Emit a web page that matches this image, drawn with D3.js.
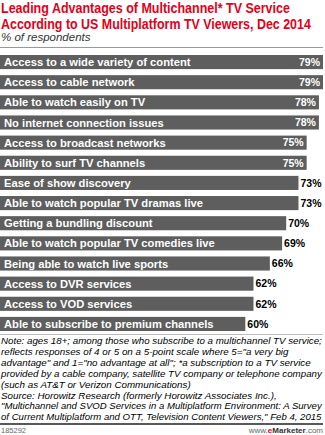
<!DOCTYPE html>
<html><head><meta charset="utf-8">
<script src="https://cdn.jsdelivr.net/npm/d3@7"></script>
<style>
body{margin:0;background:#fff;}
svg{display:block;}
</style></head>
<body>
<script>
const categories = [
  "Access to a wide variety of content",
  "Access to cable network",
  "Able to watch easily on TV",
  "No internet connection issues",
  "Access to broadcast networks",
  "Ability to surf TV channels",
  "Ease of show discovery",
  "Able to watch popular TV dramas live",
  "Getting a bundling discount",
  "Able to watch popular TV comedies live",
  "Being able to watch live sports",
  "Access to DVR services",
  "Access to VOD services",
  "Able to subscribe to premium channels"
];
const values = [79, 79, 78, 78, 75, 75, 73, 73, 70, 69, 66, 62, 62, 60];
const titleLines = ["Leading Advantages of Multichannel* TV Service", "According to US Multiplatform TV Viewers, Dec 2014"];
const subtitle = "% of respondents";
const noteLines = [
  "Note: ages 18+; among those who subscribe to a multichannel TV service;",
  "reflects responses of 4 or 5 on a 5-point scale where 5=\"a very big",
  "advantage\" and 1=\"no advantage at all\"; *a subscription to a TV service",
  "provided by a cable company, satellite TV company or telephone company",
  "(such as AT&T or Verizon Communications)",
  "Source: Horowitz Research (formerly Horowitz Associates Inc.),",
  "\"Multichannel and SVOD Services in a Multiplatform Environment: A Survey",
  "of Current Multiplatform and OTT, Television Content Viewers,\" Feb 4, 2015"
];
const chartId = "185292";

const W = 325, H = 435;
const svg = d3.select("body").append("svg").attr("width", W).attr("height", H);
const font = "'Liberation Sans', Arial, sans-serif";

// fit a text element horizontally to a width by scaling
function fitWidth(sel, target, onlyShrink) {
  sel.each(function(d, i) {
    const t = typeof target === "function" ? target(d, i) : target;
    const len = this.getComputedTextLength();
    if (onlyShrink && len <= t) return;
    const x0 = +this.getAttribute("x"), y0 = +this.getAttribute("y");
    const k = t / len;
    this.setAttribute("transform", `translate(${x0},${y0}) scale(${k},1)`);
    this.setAttribute("x", 0); this.setAttribute("y", 0);
  });
}

// title
const titleWidths = [289, 310];
svg.append("g").selectAll("text").data(titleLines).join("text")
  .attr("x", 1).attr("y", (d, i) => 13 + i * 16)
  .attr("fill", "#e2001a").attr("font-family", font).attr("font-weight", "bold")
  .attr("font-size", 13.8)
  .text(d => d)
  .call(fitWidth, (d, i) => titleWidths[i], false);
svg.append("text").attr("x", 1).attr("y", 41).attr("fill", "#333")
  .attr("font-family", font).attr("font-style", "italic").attr("font-size", 11.5).text(subtitle);
svg.append("line").attr("x1", 0).attr("x2", 323).attr("y1", 47.5).attr("y2", 47.5)
  .attr("stroke", "#999").attr("stroke-width", 1.2);

const x = d3.scaleLinear().domain([0, 79]).range([0, 323]);
const y = d3.scaleBand().domain(categories).range([53, 333]).paddingInner(0.3).paddingOuter(0.1);

const rows = svg.append("g").selectAll("g").data(categories).join("g")
  .attr("transform", d => `translate(0,${y(d)})`);
rows.append("rect").attr("x", 0).attr("y", 0)
  .attr("width", (d, i) => x(values[i])).attr("height", y.bandwidth())
  .attr("fill", "#5e5e5e");
rows.append("text").attr("x", 4).attr("y", y.bandwidth() / 2).attr("dy", "0.36em")
  .attr("fill", "#fff").attr("font-family", font).attr("font-weight", "bold").attr("font-size", 11.2)
  .text(d => d);
rows.append("text")
  .attr("x", (d, i) => values[i] >= 75 ? x(values[i]) - 3 : x(values[i]) + 2)
  .attr("text-anchor", (d, i) => values[i] >= 75 ? "end" : "start")
  .attr("y", y.bandwidth() / 2).attr("dy", "0.36em")
  .attr("fill", (d, i) => values[i] >= 75 ? "#fff" : "#000")
  .attr("font-family", font).attr("font-weight", "bold").attr("font-size", 10.5)
  .text((d, i) => values[i] + "%");

svg.append("line").attr("x1", 0).attr("x2", 323).attr("y1", 334.5).attr("y2", 334.5)
  .attr("stroke", "#bbb").attr("stroke-width", 1);

svg.append("g").selectAll("text").data(noteLines).join("text")
  .attr("x", 1).attr("y", (d, i) => 344 + i * 10.9)
  .attr("fill", "#000").attr("font-family", font).attr("font-style", "italic")
  .attr("font-size", 9.8).text(d => d)
  .call(fitWidth, 321, true);

svg.append("line").attr("x1", 0).attr("x2", 323).attr("y1", 424).attr("y2", 424)
  .attr("stroke", "#222").attr("stroke-width", 1.5);
svg.append("text").attr("x", 1).attr("y", 433).attr("fill", "#666")
  .attr("font-family", font).attr("font-size", 7.5).text(chartId);
const brand = svg.append("text").attr("x", 323).attr("y", 433).attr("text-anchor", "end")
  .attr("font-family", font).attr("font-size", 8).attr("fill", "#666");
brand.append("tspan").text("www.");
brand.append("tspan").attr("fill", "#e2001a").attr("font-weight", "bold").text("e");
brand.append("tspan").attr("fill", "#333").attr("font-weight", "bold").text("Marketer");
brand.append("tspan").text(".com");
</script>
</body></html>
